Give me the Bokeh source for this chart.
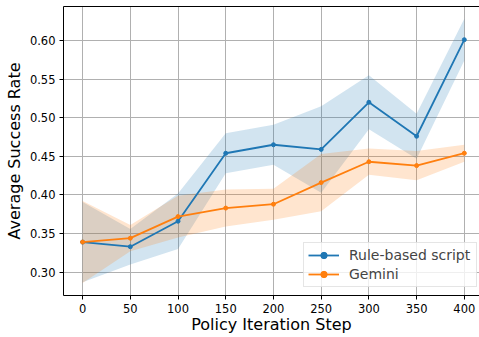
from bokeh.plotting import figure
from bokeh.models import (FixedTicker, NumeralTickFormatter, Legend, LegendItem, Range1d,
                          LinearAxis)
from bokeh.embed import file_html
from bokeh.resources import INLINE

steps = [0, 50, 100, 150, 200, 250, 300, 350, 400]
rule_mean = [0.339, 0.333, 0.366, 0.454, 0.465, 0.459, 0.520, 0.476, 0.601]
rule_std = [0.052, 0.023, 0.036, 0.026, 0.026, 0.056, 0.035, 0.029, 0.027]
gem_mean = [0.339, 0.344, 0.372, 0.383, 0.388, 0.416, 0.443, 0.438, 0.454]
gem_std = [0.053, 0.017, 0.027, 0.024, 0.020, 0.037, 0.017, 0.019, 0.011]
x_ticks = [0, 50, 100, 150, 200, 250, 300, 350, 400]
y_ticks = [0.30, 0.35, 0.40, 0.45, 0.50, 0.55, 0.60]

BLUE = "#1f77b4"
ORANGE = "#ff7f0e"
FONT = "DejaVu Sans"

p = figure(width=479, height=337, output_backend="svg", toolbar_location=None,
           x_range=Range1d(-20, 415.9), y_range=Range1d(0.2698, 0.644),
           min_border_left=63, min_border_right=0, min_border_top=6, min_border_bottom=42)
p.outline_line_color = None

rl = [m - s for m, s in zip(rule_mean, rule_std)]
ru = [m + s for m, s in zip(rule_mean, rule_std)]
gl = [m - s for m, s in zip(gem_mean, gem_std)]
gu = [m + s for m, s in zip(gem_mean, gem_std)]

p.varea(x=steps, y1=rl, y2=ru, fill_color=BLUE, fill_alpha=0.2)
p.varea(x=steps, y1=gl, y2=gu, fill_color=ORANGE, fill_alpha=0.2)

l1 = p.line(steps, rule_mean, line_color=BLUE, line_width=1.8)
s1 = p.scatter(steps, rule_mean, size=4, fill_color=BLUE, line_color=BLUE)
l2 = p.line(steps, gem_mean, line_color=ORANGE, line_width=1.8)
s2 = p.scatter(steps, gem_mean, size=4, fill_color=ORANGE, line_color=ORANGE)

for ax in (p.xaxis[0], p.yaxis[0]):
    ax.axis_line_color = "black"
    ax.major_tick_line_color = "black"
    ax.major_tick_out = 4
    ax.major_tick_in = 0
    ax.minor_tick_line_color = None
    ax.major_label_text_font = FONT
    ax.major_label_text_font_size = "11.5px"
    ax.major_label_text_color = "black"
    ax.axis_label_text_font = FONT
    ax.axis_label_text_font_size = "16px"
    ax.axis_label_text_font_style = "normal"
    ax.axis_label_text_color = "black"

p.xaxis.ticker = FixedTicker(ticks=x_ticks)
p.yaxis.ticker = FixedTicker(ticks=y_ticks)
p.yaxis.formatter = NumeralTickFormatter(format="0.00")
p.xaxis.axis_label = "Policy Iteration Step"
p.yaxis.axis_label = "Average Success Rate"
p.xaxis.major_label_standoff = 4
p.yaxis.major_label_standoff = 4
p.xaxis.axis_label_standoff = -1
p.yaxis.axis_label_standoff = 3

top_axis = LinearAxis(ticker=FixedTicker(ticks=[]), axis_line_color="black",
                      major_tick_out=0, major_tick_in=0, minor_tick_out=0, minor_tick_in=0,
                      major_label_standoff=0, major_label_text_font_size="1px")
p.add_layout(top_axis, "above")

p.grid.grid_line_color = "#b0b0b0"
p.grid.grid_line_width = 1

legend = Legend(items=[LegendItem(label="Rule-based script", renderers=[l1, s1]),
                       LegendItem(label="Gemini", renderers=[l2, s2])],
                location=(240, 8))
legend.label_text_font = FONT
legend.label_text_font_size = "14px"
legend.label_width = 123
legend.glyph_width = 31
legend.glyph_height = 16
legend.label_height = 16
legend.label_standoff = 10
legend.padding = 4
legend.spacing = 3
legend.margin = 0
legend.border_line_color = "#cccccc"
legend.border_line_width = 1
legend.background_fill_alpha = 0.8
p.add_layout(legend, "center")

open("out.html", "w").write(file_html(p, INLINE))
